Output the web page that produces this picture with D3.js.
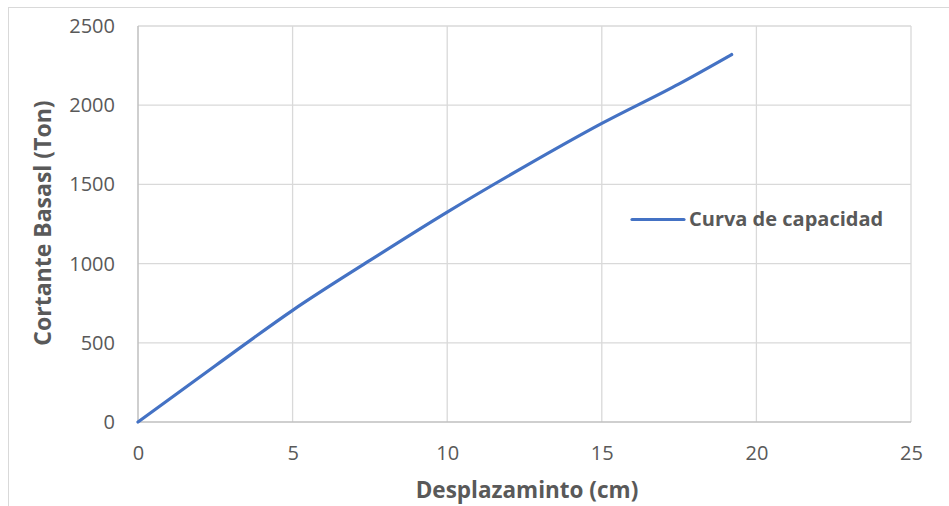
<!DOCTYPE html>
<html><head><meta charset="utf-8">
<script src="https://cdn.jsdelivr.net/npm/d3@7"></script>
<style>body{margin:0;background:#fff;}svg{display:block;font-family:"Open Sans","Liberation Sans",sans-serif;}</style>
</head><body><div id="c"></div>
<script>
const seriesName = "Curva de capacidad";
const desplazamiento = [0, 2.5, 5, 7.5, 10, 12.5, 15, 17.5, 19.2];
const cortante = [0, 355, 705, 1020, 1325, 1612, 1885, 2135, 2320];
const xTicks = [0, 5, 10, 15, 20, 25];
const yTicks = [0, 500, 1000, 1500, 2000, 2500];
const xTitle = "Desplazaminto (cm)";
const yTitle = "Cortante Basasl (Ton)";

const W = 949, H = 506;
const m = {l:138, r:38, t:26, b:84};
const svg = d3.select("#c").append("svg").attr("width", W).attr("height", H);
svg.append("rect").attr("x",8.5).attr("y",7.5).attr("width",W).attr("height",H)
  .attr("fill","#fff").attr("stroke","#d9d9d9").attr("stroke-width",1);

const x = d3.scaleLinear().domain([0,25]).range([m.l, W-m.r]);
const y = d3.scaleLinear().domain([0,2500]).range([H-m.b, m.t]);

const g = svg.append("g");
g.selectAll("line.v").data(xTicks.slice(1)).join("line")
  .attr("x1",d=>x(d)).attr("x2",d=>x(d)).attr("y1",y(0)).attr("y2",y(2500))
  .attr("stroke","#d9d9d9").attr("stroke-width",1.3);
g.selectAll("line.h").data(yTicks.slice(1)).join("line")
  .attr("x1",x(0)).attr("x2",x(25)).attr("y1",d=>y(d)).attr("y2",d=>y(d))
  .attr("stroke","#d9d9d9").attr("stroke-width",1.3);
g.append("line").attr("x1",x(0)).attr("x2",x(0)).attr("y1",y(0)).attr("y2",y(2500)).attr("stroke","#bfbfbf").attr("stroke-width",1.5);
g.append("line").attr("x1",x(0)).attr("x2",x(25)).attr("y1",y(0)).attr("y2",y(0)).attr("stroke","#bfbfbf").attr("stroke-width",1.5);

const fmt = d3.format("d");
const xAxis = svg.append("g").attr("transform",`translate(0,${y(0)})`)
  .call(d3.axisBottom(x).tickValues(xTicks).tickFormat(fmt).tickSize(0).tickPadding(24));
const yAxis = svg.append("g").attr("transform",`translate(${x(0)},0)`)
  .call(d3.axisLeft(y).tickValues(yTicks).tickFormat(fmt).tickSize(0).tickPadding(23));
[xAxis,yAxis].forEach(a=>{a.select(".domain").remove();
  a.selectAll("text").attr("fill","#595959").style("font-size","20px").style("font-family","'Open Sans','Liberation Sans',sans-serif");});

const data = desplazamiento.map((d,i)=>[d,cortante[i]]);
svg.append("path").datum(data)
  .attr("d", d3.line().x(d=>x(d[0])).y(d=>y(d[1])).curve(d3.curveMonotoneX))
  .attr("fill","none").attr("stroke","#4472c4").attr("stroke-width",3.2).attr("stroke-linecap","round");

svg.append("text").attr("x",527).attr("y",498).attr("text-anchor","middle")
  .attr("fill","#595959").style("font-size","22.5px").style("font-weight","bold").text(xTitle);
svg.append("text").attr("transform",`translate(51,223) rotate(-90)`).attr("text-anchor","middle")
  .attr("fill","#595959").style("font-size","23px").style("font-weight","bold").text(yTitle);

const lg = svg.append("g");
lg.append("line").attr("x1",632).attr("x2",684).attr("y1",219.5).attr("y2",219.5)
  .attr("stroke","#4472c4").attr("stroke-width",3.2).attr("stroke-linecap","round");
lg.append("text").attr("x",689).attr("y",226).attr("fill","#595959")
  .style("font-size","20px").style("font-weight","bold").text(seriesName);
</script></body></html>
